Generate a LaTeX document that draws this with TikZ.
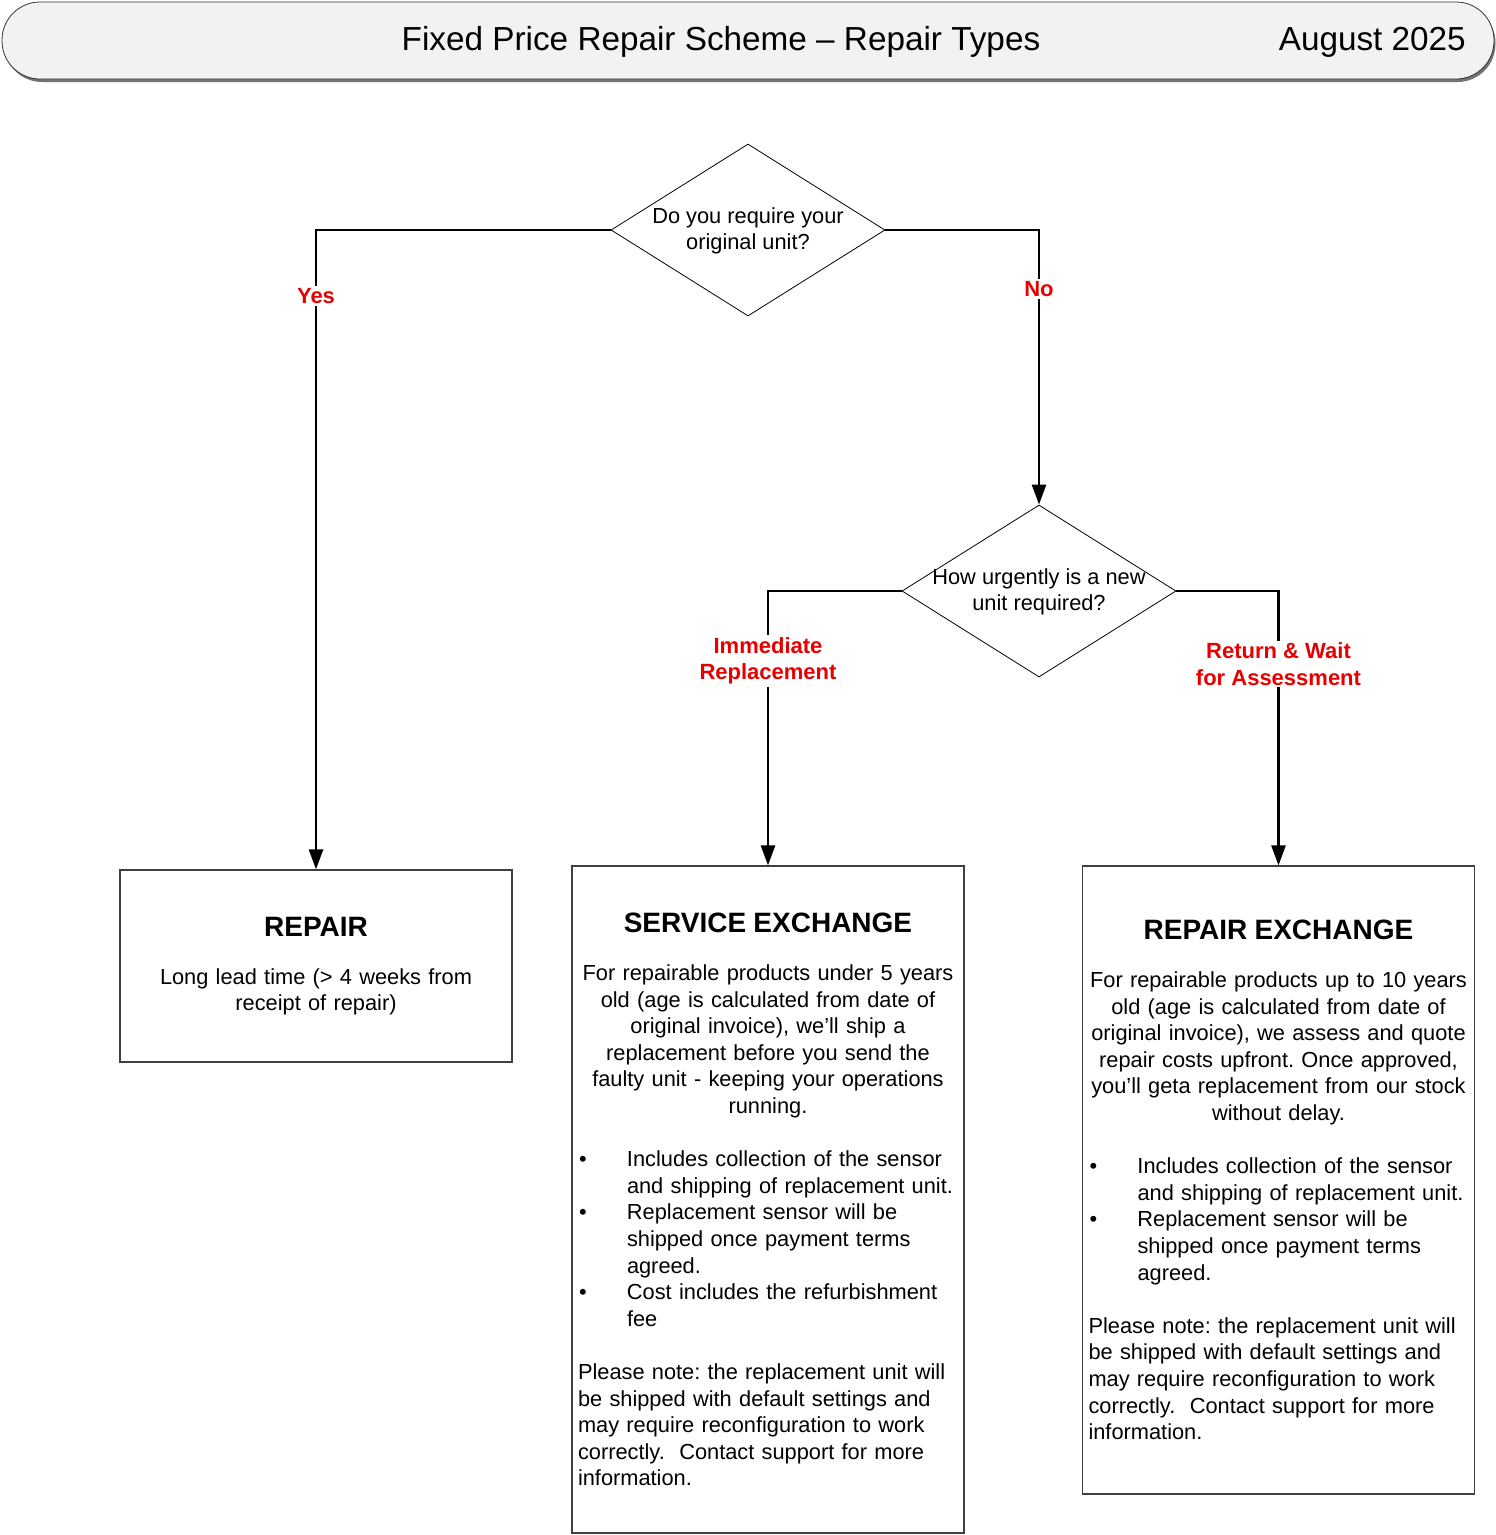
\documentclass[tikz,border=0pt]{standalone}
\usepackage{fontspec}
\setmainfont{Liberation Sans}
\usetikzlibrary{shapes.geometric,arrows.meta}
\definecolor{lblred}{RGB}{232,0,0}
\definecolor{hdrfill}{RGB}{242,242,242}
\newcommand\bodyfnt{\fontsize{21.8}{26.6}\selectfont\frenchspacing}
\newcommand\ttlfnt{\fontsize{28}{33}\selectfont\bfseries}
\newcommand\bulitem[1]{\par\noindent\hangindent=49pt\hangafter=1\makebox[49pt][l]{\hspace{1pt}•}#1\par}
\newcommand\leftpart{\raggedright\leftskip=6pt\relax}
\tikzset{
  conn/.style={line width=2.6pt,-{Triangle[length=20pt,width=14pt]}},
  lbl/.style={fill=white,text=lblred,font=\fontsize{22}{26.6}\selectfont\bfseries,align=center,inner sep=2pt},
  ques/.style={diamond,draw,line width=0.8pt,minimum width=274pt,minimum height=172pt,inner sep=0pt},
  qtext/.style={font=\bodyfnt,align=center,inner sep=0pt},
  resbox/.style={draw=black!75,line width=1.2pt,minimum width=392pt,text width=392pt,inner xsep=0pt,inner ysep=0pt,font=\bodyfnt},
}
\begin{document}
\begin{tikzpicture}[x=1pt,y=-1pt]
\useasboundingbox (0,0) rectangle (1496,1535);
% header
\fill[black!55,rounded corners=38pt] (4,5) rectangle (1495.5,82);
\draw[fill=hdrfill,draw=black!80,line width=0.8pt,rounded corners=38pt] (2,2) rectangle (1494,79);
\node[font=\fontsize{33.3}{38}\selectfont,anchor=base,inner sep=0pt] (title) at (721,50) {Fixed Price Repair Scheme – Repair Types};
\node[font=\fontsize{33.3}{38}\selectfont,anchor=base east,inner sep=0pt] (date) at (1466,50) {August 2025};
% decisions
\node[ques] (q1) at (748,230) {};
\node[qtext] (q1t) at (748,231) {Do you require your\\original unit?};
\node[ques] (q2) at (1039,591) {};
\node[qtext] (q2t) at (1039,592) {How urgently is a new\\unit required?};
% result boxes
\node[resbox,minimum height=192pt] (repair) at (316,966) {%
\centering{\ttlfnt REPAIR}\par\vspace{21.4pt}
Long lead time (> 4 weeks from\\receipt of repair)\par};
\node[resbox,minimum height=667pt] (svc) at (768,1199.5) {%
\centering{\ttlfnt SERVICE EXCHANGE}\par\vspace{21.4pt}
For repairable products under 5 years\\old (age is calculated from date of\\original invoice), we’ll ship a\\replacement before you send the\\faulty unit - keeping your operations\\running.\par
\vspace{26.6pt}\leftpart
\bulitem{Includes collection of the sensor\newline and shipping of replacement unit.}
\bulitem{Replacement sensor will be\newline shipped once payment terms\newline agreed.}
\bulitem{Cost includes the refurbishment\newline fee}
\vspace{26.6pt}
\noindent Please note: the replacement unit will\newline be shipped with default settings and\newline may require reconfiguration to work\newline correctly.\ \ Contact support for more\newline information.\par};
\node[resbox,minimum height=628pt] (rex) at (1278.5,1180) {%
\centering{\ttlfnt REPAIR EXCHANGE}\par\vspace{21.4pt}
For repairable products up to 10 years\\old (age is calculated from date of\\original invoice), we assess and quote\\repair costs upfront. Once approved,\\you’ll geta replacement from our stock\\without delay.\par
\vspace{26.6pt}\leftpart
\bulitem{Includes collection of the sensor\newline and shipping of replacement unit.}
\bulitem{Replacement sensor will be\newline shipped once payment terms\newline agreed.}
\vspace{26.6pt}
\noindent Please note: the replacement unit will\newline be shipped with default settings and\newline may require reconfiguration to work\newline correctly.\ \ Contact support for more\newline information.\par};
% connectors
\draw[conn] (q1.west) -| (repair.north);
\draw[conn] (q1.east) -| (q2.north);
\draw[conn] (q2.west) -| (svc.north);
\draw[conn] (q2.east) -| (rex.north);
% labels
\node[lbl] (lyes) at (316,296) {Yes};
\node[lbl] (lno) at (1039,289) {No};
\node[lbl] (limm) at (768,661) {Immediate\\Replacement};
\node[lbl] (lret) at (1278.5,664) {Return \& Wait\\for Assessment};
\end{tikzpicture}
\end{document}
